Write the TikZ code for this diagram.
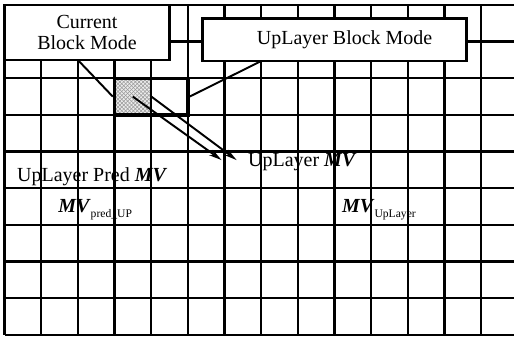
\documentclass[tikz,border=0pt]{standalone}
\usepackage{fontspec}
\setmainfont{Liberation Serif}
\usetikzlibrary{arrows.meta, patterns}

\begin{document}
\begin{tikzpicture}[
  gridline/.style={line width=1.8pt},
  modebox/.style={rectangle, draw, line width=2.2pt, fill=white, inner sep=0pt,
                  align=center, font=\fontsize{15.5}{17}\selectfont},
  lbl/.style={anchor=west, inner sep=0pt, font=\fontsize{15.5}{17}\selectfont},
  link/.style={line width=1.5pt},
  mvarrow/.style={-{Stealth[length=10pt, width=5pt]}, line width=1.5pt}
]
\useasboundingbox (-0.123,-0.055) rectangle (13.895,9.136);

% Current block (hatched cell)
\node[minimum size=1cm, inner sep=0pt, preaction={fill=gray!15},
      pattern=north east lines, pattern color=gray!80,
      postaction={pattern=north west lines, pattern color=gray!80}] (cb) at (3.5,6.5) {};

% Grid
\foreach \x in {0,...,13} {
  \draw[gridline] (\x,0) -- (\x,9);
}
\foreach \y in {0,...,9} {
  \draw[gridline] (0,\y) -- (13.895,\y);
}

% Block pair outline
\node[draw, line width=2.6pt, minimum width=2cm, minimum height=1cm, inner sep=0pt] (pair) at (4,6.5) {};

% Mode boxes
\node[modebox, minimum width=4.5cm, minimum height=1.5cm] (cur) at (2.25,8.25) {Current\\Block Mode};
\node[modebox, minimum width=7.2cm, minimum height=1.15cm] (up) at (9.0,8.045) {\hspace*{0.55cm}UpLayer Block Mode};

% Links from boxes to blocks
\coordinate (curfoot) at (2,7.5);
\coordinate (upfoot) at (7.0,7.47);
\draw[link] (curfoot) -- (pair.west);
\draw[link] (pair.east) -- (upfoot);

% Motion vector arrows
\coordinate (tipA) at (5.92,4.77);
\coordinate (tipB) at (6.33,4.77);
\draw[mvarrow] (cb.center) -- (tipA);
\draw[mvarrow] (cb.east) -- (tipB);

% Labels
\node[lbl] (upmv) at (6.64,4.72) {UpLayer \textbf{\textit{MV}}};
\node[lbl] (predmv) at (0.34,4.31) {UpLayer Pred \textbf{\textit{MV}}};
\node[lbl] (mvpred) at (1.46,3.41)
  {\textbf{\textit{MV}}\raisebox{-4pt}{\fontsize{9}{11}\selectfont pred\_UP}};
\node[lbl] (mvup) at (9.2,3.41)
  {\textbf{\textit{MV}}\raisebox{-4pt}{\fontsize{9}{11}\selectfont UpLayer}};

\end{tikzpicture}
\end{document}
